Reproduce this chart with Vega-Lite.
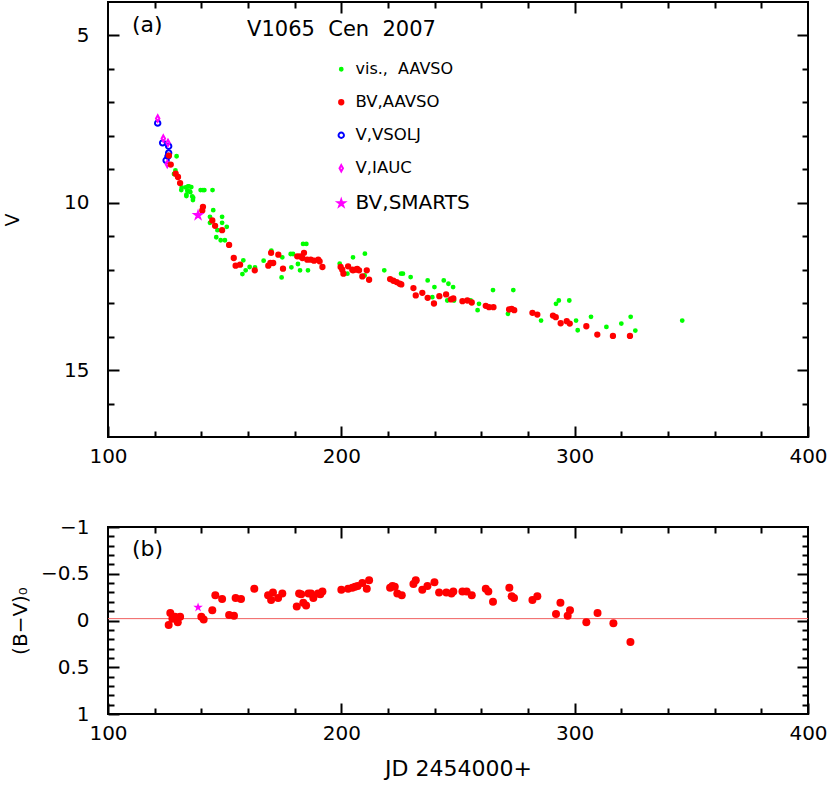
{
"$schema": "https://vega.github.io/schema/vega-lite/v6.json",
"background": "white",
"padding": {"left": 2, "top": 0, "right": 0, "bottom": 4},
"bounds": "flush",
"spacing": 90,
"config": {
 "font": "DejaVu Sans",
 "view": {"stroke": "black", "strokeWidth": 2},
 "axis": {"grid": false, "domain": false, "tickColor": "black", "tickWidth": 2, "labelFont": "DejaVu Sans", "labelFontSize": 20, "labelColor": "black", "titleFont": "DejaVu Sans", "titleFontWeight": "normal", "titleColor": "black", "labelOverlap": false, "labelFlush": false, "labelBound": false},
 "legend": {"labelFont": "DejaVu Sans"}
},
"datasets": {
 "lc": [
  {"jd":129.4,"v":8.61,"src":"vis., AAVSO"},{"jd":128.9,"v":9.03,"src":"vis., AAVSO"},{"jd":128.3,"v":9.14,"src":"vis., AAVSO"},{"jd":131.4,"v":9.62,"src":"vis., AAVSO"},{"jd":133.3,"v":9.54,"src":"vis., AAVSO"},{"jd":134.3,"v":9.51,"src":"vis., AAVSO"},{"jd":135.7,"v":9.53,"src":"vis., AAVSO"},{"jd":135.0,"v":9.66,"src":"vis., AAVSO"},{"jd":133.6,"v":9.80,"src":"vis., AAVSO"},{"jd":136.5,"v":9.85,"src":"vis., AAVSO"},{"jd":131.6,"v":9.54,"src":"vis., AAVSO"},{"jd":134.7,"v":9.51,"src":"vis., AAVSO"},{"jd":134.0,"v":9.64,"src":"vis., AAVSO"},{"jd":135.3,"v":9.68,"src":"vis., AAVSO"},{"jd":133.6,"v":9.76,"src":"vis., AAVSO"},{"jd":136.1,"v":9.81,"src":"vis., AAVSO"},{"jd":136.4,"v":9.92,"src":"vis., AAVSO"},{"jd":139.7,"v":9.62,"src":"vis., AAVSO"},{"jd":140.7,"v":9.62,"src":"vis., AAVSO"},{"jd":141.3,"v":9.62,"src":"vis., AAVSO"},{"jd":144.8,"v":9.62,"src":"vis., AAVSO"},{"jd":145.1,"v":10.22,"src":"vis., AAVSO"},{"jd":143.7,"v":10.42,"src":"vis., AAVSO"},{"jd":143.7,"v":10.60,"src":"vis., AAVSO"},{"jd":148.9,"v":10.42,"src":"vis., AAVSO"},{"jd":148.9,"v":10.60,"src":"vis., AAVSO"},{"jd":150.9,"v":10.72,"src":"vis., AAVSO"},{"jd":146.9,"v":10.82,"src":"vis., AAVSO"},{"jd":146.4,"v":11.03,"src":"vis., AAVSO"},{"jd":148.3,"v":11.12,"src":"vis., AAVSO"},{"jd":150.1,"v":11.12,"src":"vis., AAVSO"},{"jd":158.0,"v":11.72,"src":"vis., AAVSO"},{"jd":159.0,"v":12.02,"src":"vis., AAVSO"},{"jd":157.6,"v":12.13,"src":"vis., AAVSO"},{"jd":160.7,"v":11.92,"src":"vis., AAVSO"},{"jd":163.0,"v":11.93,"src":"vis., AAVSO"},{"jd":166.7,"v":11.73,"src":"vis., AAVSO"},{"jd":170.0,"v":11.43,"src":"vis., AAVSO"},{"jd":174.7,"v":11.63,"src":"vis., AAVSO"},{"jd":174.4,"v":12.23,"src":"vis., AAVSO"},{"jd":178.3,"v":11.53,"src":"vis., AAVSO"},{"jd":179.3,"v":11.53,"src":"vis., AAVSO"},{"jd":178.6,"v":11.93,"src":"vis., AAVSO"},{"jd":181.4,"v":11.83,"src":"vis., AAVSO"},{"jd":182.3,"v":12.02,"src":"vis., AAVSO"},{"jd":183.6,"v":11.23,"src":"vis., AAVSO"},{"jd":185.0,"v":11.23,"src":"vis., AAVSO"},{"jd":185.7,"v":12.02,"src":"vis., AAVSO"},{"jd":199.3,"v":11.82,"src":"vis., AAVSO"},{"jd":202.6,"v":12.12,"src":"vis., AAVSO"},{"jd":205.0,"v":11.63,"src":"vis., AAVSO"},{"jd":210.1,"v":11.52,"src":"vis., AAVSO"},{"jd":210.0,"v":12.17,"src":"vis., AAVSO"},{"jd":218.4,"v":12.02,"src":"vis., AAVSO"},{"jd":225.6,"v":12.12,"src":"vis., AAVSO"},{"jd":226.4,"v":12.12,"src":"vis., AAVSO"},{"jd":229.7,"v":12.22,"src":"vis., AAVSO"},{"jd":237.0,"v":12.32,"src":"vis., AAVSO"},{"jd":239.9,"v":12.52,"src":"vis., AAVSO"},{"jd":243.9,"v":12.32,"src":"vis., AAVSO"},{"jd":245.9,"v":12.42,"src":"vis., AAVSO"},{"jd":247.9,"v":12.52,"src":"vis., AAVSO"},{"jd":239.0,"v":12.82,"src":"vis., AAVSO"},{"jd":245.4,"v":12.92,"src":"vis., AAVSO"},{"jd":248.3,"v":12.92,"src":"vis., AAVSO"},{"jd":255.4,"v":12.92,"src":"vis., AAVSO"},{"jd":259.0,"v":13.02,"src":"vis., AAVSO"},{"jd":258.4,"v":13.21,"src":"vis., AAVSO"},{"jd":265.0,"v":12.61,"src":"vis., AAVSO"},{"jd":273.7,"v":12.61,"src":"vis., AAVSO"},{"jd":271.4,"v":13.32,"src":"vis., AAVSO"},{"jd":285.6,"v":13.52,"src":"vis., AAVSO"},{"jd":292.0,"v":13.02,"src":"vis., AAVSO"},{"jd":293.2,"v":12.92,"src":"vis., AAVSO"},{"jd":297.7,"v":12.92,"src":"vis., AAVSO"},{"jd":300.6,"v":13.52,"src":"vis., AAVSO"},{"jd":301.3,"v":13.81,"src":"vis., AAVSO"},{"jd":307.0,"v":13.41,"src":"vis., AAVSO"},{"jd":313.6,"v":13.71,"src":"vis., AAVSO"},{"jd":320.0,"v":13.61,"src":"vis., AAVSO"},{"jd":324.0,"v":13.41,"src":"vis., AAVSO"},{"jd":326.0,"v":13.82,"src":"vis., AAVSO"},{"jd":346.1,"v":13.52,"src":"vis., AAVSO"},
  {"jd":121.3,"v":7.62,"src":"V,VSOLJ"},{"jd":123.4,"v":8.21,"src":"V,VSOLJ"},{"jd":126.0,"v":8.31,"src":"V,VSOLJ"},{"jd":126.0,"v":8.51,"src":"V,VSOLJ"},{"jd":125.7,"v":8.61,"src":"V,VSOLJ"},{"jd":124.9,"v":8.73,"src":"V,VSOLJ"},
  {"jd":121.3,"v":7.48,"src":"V,IAUC"},{"jd":123.7,"v":8.08,"src":"V,IAUC"},{"jd":125.7,"v":8.21,"src":"V,IAUC"},{"jd":125.4,"v":8.84,"src":"V,IAUC"},
  {"jd":126.1,"v":8.59,"src":"BV,AAVSO"},{"jd":126.9,"v":8.86,"src":"BV,AAVSO"},{"jd":129.0,"v":9.13,"src":"BV,AAVSO"},{"jd":130.0,"v":9.23,"src":"BV,AAVSO"},{"jd":130.9,"v":9.41,"src":"BV,AAVSO"},{"jd":140.7,"v":10.12,"src":"BV,AAVSO"},{"jd":140.4,"v":10.23,"src":"BV,AAVSO"},{"jd":144.7,"v":10.53,"src":"BV,AAVSO"},{"jd":145.9,"v":10.69,"src":"BV,AAVSO"},{"jd":148.9,"v":10.82,"src":"BV,AAVSO"},{"jd":151.9,"v":11.26,"src":"BV,AAVSO"},{"jd":153.9,"v":11.65,"src":"BV,AAVSO"},{"jd":154.7,"v":11.88,"src":"BV,AAVSO"},{"jd":156.6,"v":11.85,"src":"BV,AAVSO"},{"jd":162.9,"v":12.02,"src":"BV,AAVSO"},{"jd":168.7,"v":11.88,"src":"BV,AAVSO"},{"jd":169.6,"v":11.80,"src":"BV,AAVSO"},{"jd":170.8,"v":11.80,"src":"BV,AAVSO"},{"jd":173.0,"v":11.55,"src":"BV,AAVSO"},{"jd":169.9,"v":11.50,"src":"BV,AAVSO"},{"jd":175.0,"v":11.97,"src":"BV,AAVSO"},{"jd":181.1,"v":11.60,"src":"BV,AAVSO"},{"jd":182.3,"v":11.60,"src":"BV,AAVSO"},{"jd":184.0,"v":11.50,"src":"BV,AAVSO"},{"jd":183.3,"v":11.65,"src":"BV,AAVSO"},{"jd":185.4,"v":11.70,"src":"BV,AAVSO"},{"jd":186.9,"v":11.70,"src":"BV,AAVSO"},{"jd":188.3,"v":11.73,"src":"BV,AAVSO"},{"jd":190.1,"v":11.70,"src":"BV,AAVSO"},{"jd":190.7,"v":11.75,"src":"BV,AAVSO"},{"jd":191.9,"v":11.92,"src":"BV,AAVSO"},{"jd":199.7,"v":11.92,"src":"BV,AAVSO"},{"jd":200.4,"v":12.00,"src":"BV,AAVSO"},{"jd":200.9,"v":12.12,"src":"BV,AAVSO"},{"jd":202.9,"v":11.90,"src":"BV,AAVSO"},{"jd":204.7,"v":12.00,"src":"BV,AAVSO"},{"jd":205.0,"v":12.02,"src":"BV,AAVSO"},{"jd":206.1,"v":12.00,"src":"BV,AAVSO"},{"jd":206.8,"v":11.98,"src":"BV,AAVSO"},{"jd":207.6,"v":12.02,"src":"BV,AAVSO"},{"jd":209.0,"v":12.20,"src":"BV,AAVSO"},{"jd":210.9,"v":12.02,"src":"BV,AAVSO"},{"jd":211.9,"v":12.30,"src":"BV,AAVSO"},{"jd":220.9,"v":12.28,"src":"BV,AAVSO"},{"jd":222.3,"v":12.33,"src":"BV,AAVSO"},{"jd":223.7,"v":12.37,"src":"BV,AAVSO"},{"jd":225.0,"v":12.42,"src":"BV,AAVSO"},{"jd":225.7,"v":12.44,"src":"BV,AAVSO"},{"jd":230.9,"v":12.55,"src":"BV,AAVSO"},{"jd":231.9,"v":12.77,"src":"BV,AAVSO"},{"jd":234.7,"v":12.69,"src":"BV,AAVSO"},{"jd":237.0,"v":12.84,"src":"BV,AAVSO"},{"jd":239.7,"v":13.01,"src":"BV,AAVSO"},{"jd":242.0,"v":12.79,"src":"BV,AAVSO"},{"jd":244.9,"v":12.74,"src":"BV,AAVSO"},{"jd":247.0,"v":12.89,"src":"BV,AAVSO"},{"jd":248.0,"v":12.86,"src":"BV,AAVSO"},{"jd":251.9,"v":12.94,"src":"BV,AAVSO"},{"jd":254.0,"v":12.92,"src":"BV,AAVSO"},{"jd":255.9,"v":12.98,"src":"BV,AAVSO"},{"jd":261.9,"v":13.08,"src":"BV,AAVSO"},{"jd":263.3,"v":13.12,"src":"BV,AAVSO"},{"jd":265.2,"v":13.12,"src":"BV,AAVSO"},{"jd":271.9,"v":13.19,"src":"BV,AAVSO"},{"jd":273.0,"v":13.17,"src":"BV,AAVSO"},{"jd":274.1,"v":13.21,"src":"BV,AAVSO"},{"jd":281.9,"v":13.29,"src":"BV,AAVSO"},{"jd":284.0,"v":13.34,"src":"BV,AAVSO"},{"jd":290.7,"v":13.37,"src":"BV,AAVSO"},{"jd":291.9,"v":13.42,"src":"BV,AAVSO"},{"jd":294.0,"v":13.60,"src":"BV,AAVSO"},{"jd":296.6,"v":13.54,"src":"BV,AAVSO"},{"jd":297.9,"v":13.61,"src":"BV,AAVSO"},{"jd":305.0,"v":13.69,"src":"BV,AAVSO"},{"jd":309.7,"v":13.94,"src":"BV,AAVSO"},{"jd":316.4,"v":13.98,"src":"BV,AAVSO"},{"jd":323.7,"v":13.98,"src":"BV,AAVSO"},
  {"jd":138.6,"v":10.37,"src":"BV,SMARTS"}
 ],
 "bv": [
  {"jd":126.0,"bv":0.048,"src":"BV,AAVSO"},{"jd":126.7,"bv":-0.08,"src":"BV,AAVSO"},{"jd":127.6,"bv":-0.02,"src":"BV,AAVSO"},{"jd":128.7,"bv":-0.04,"src":"BV,AAVSO"},{"jd":129.9,"bv":0.02,"src":"BV,AAVSO"},{"jd":130.9,"bv":-0.04,"src":"BV,AAVSO"},{"jd":140.0,"bv":-0.04,"src":"BV,AAVSO"},{"jd":141.0,"bv":-0.01,"src":"BV,AAVSO"},{"jd":144.7,"bv":-0.11,"src":"BV,AAVSO"},{"jd":146.0,"bv":-0.27,"src":"BV,AAVSO"},{"jd":148.9,"bv":-0.23,"src":"BV,AAVSO"},{"jd":151.9,"bv":-0.06,"src":"BV,AAVSO"},{"jd":154.0,"bv":-0.05,"src":"BV,AAVSO"},{"jd":154.7,"bv":-0.24,"src":"BV,AAVSO"},{"jd":157.0,"bv":-0.23,"src":"BV,AAVSO"},{"jd":162.7,"bv":-0.34,"src":"BV,AAVSO"},{"jd":168.6,"bv":-0.27,"src":"BV,AAVSO"},{"jd":169.9,"bv":-0.22,"src":"BV,AAVSO"},{"jd":170.7,"bv":-0.30,"src":"BV,AAVSO"},{"jd":172.9,"bv":-0.24,"src":"BV,AAVSO"},{"jd":174.7,"bv":-0.29,"src":"BV,AAVSO"},{"jd":180.9,"bv":-0.15,"src":"BV,AAVSO"},{"jd":181.9,"bv":-0.29,"src":"BV,AAVSO"},{"jd":182.8,"bv":-0.28,"src":"BV,AAVSO"},{"jd":183.7,"bv":-0.19,"src":"BV,AAVSO"},{"jd":184.9,"bv":-0.16,"src":"BV,AAVSO"},{"jd":185.9,"bv":-0.29,"src":"BV,AAVSO"},{"jd":187.0,"bv":-0.29,"src":"BV,AAVSO"},{"jd":188.0,"bv":-0.24,"src":"BV,AAVSO"},{"jd":190.0,"bv":-0.29,"src":"BV,AAVSO"},{"jd":191.0,"bv":-0.28,"src":"BV,AAVSO"},{"jd":191.9,"bv":-0.31,"src":"BV,AAVSO"},{"jd":200.0,"bv":-0.33,"src":"BV,AAVSO"},{"jd":202.9,"bv":-0.34,"src":"BV,AAVSO"},{"jd":204.7,"bv":-0.35,"src":"BV,AAVSO"},{"jd":205.9,"bv":-0.36,"src":"BV,AAVSO"},{"jd":207.0,"bv":-0.37,"src":"BV,AAVSO"},{"jd":209.0,"bv":-0.40,"src":"BV,AAVSO"},{"jd":210.9,"bv":-0.34,"src":"BV,AAVSO"},{"jd":211.9,"bv":-0.43,"src":"BV,AAVSO"},{"jd":220.9,"bv":-0.35,"src":"BV,AAVSO"},{"jd":221.9,"bv":-0.37,"src":"BV,AAVSO"},{"jd":222.9,"bv":-0.36,"src":"BV,AAVSO"},{"jd":224.0,"bv":-0.29,"src":"BV,AAVSO"},{"jd":225.9,"bv":-0.27,"src":"BV,AAVSO"},{"jd":230.9,"bv":-0.39,"src":"BV,AAVSO"},{"jd":231.9,"bv":-0.43,"src":"BV,AAVSO"},{"jd":234.7,"bv":-0.33,"src":"BV,AAVSO"},{"jd":236.9,"bv":-0.37,"src":"BV,AAVSO"},{"jd":239.9,"bv":-0.41,"src":"BV,AAVSO"},{"jd":241.9,"bv":-0.30,"src":"BV,AAVSO"},{"jd":245.0,"bv":-0.30,"src":"BV,AAVSO"},{"jd":247.2,"bv":-0.29,"src":"BV,AAVSO"},{"jd":248.0,"bv":-0.31,"src":"BV,AAVSO"},{"jd":251.9,"bv":-0.31,"src":"BV,AAVSO"},{"jd":253.7,"bv":-0.31,"src":"BV,AAVSO"},{"jd":255.9,"bv":-0.27,"src":"BV,AAVSO"},{"jd":261.9,"bv":-0.34,"src":"BV,AAVSO"},{"jd":263.0,"bv":-0.31,"src":"BV,AAVSO"},{"jd":265.0,"bv":-0.20,"src":"BV,AAVSO"},{"jd":272.0,"bv":-0.35,"src":"BV,AAVSO"},{"jd":273.0,"bv":-0.26,"src":"BV,AAVSO"},{"jd":274.0,"bv":-0.24,"src":"BV,AAVSO"},{"jd":281.9,"bv":-0.22,"src":"BV,AAVSO"},{"jd":284.0,"bv":-0.26,"src":"BV,AAVSO"},{"jd":292.0,"bv":-0.07,"src":"BV,AAVSO"},{"jd":293.9,"bv":-0.19,"src":"BV,AAVSO"},{"jd":297.0,"bv":-0.05,"src":"BV,AAVSO"},{"jd":298.0,"bv":-0.11,"src":"BV,AAVSO"},{"jd":305.0,"bv":0.02,"src":"BV,AAVSO"},{"jd":309.8,"bv":-0.08,"src":"BV,AAVSO"},{"jd":316.6,"bv":0.03,"src":"BV,AAVSO"},{"jd":323.9,"bv":0.23,"src":"BV,AAVSO"},
  {"jd":138.6,"bv":-0.14,"src":"BV,SMARTS"}
 ]
},
"vconcat": [
 {
  "width": 700, "height": 435,
  "resolve": {"axis": {"x": "independent", "y": "independent"}},
  "layer": [
   {
    "data": {"name": "lc"},
    "mark": {"type": "point", "strokeWidth": 2, "opacity": 1},
    "encoding": {
     "x": {"field": "jd", "type": "quantitative", "scale": {"domain": [100, 400], "nice": false, "zero": false},
       "axis": {"orient": "bottom", "title": null, "values": [100,120,140,160,180,200,220,240,260,280,300,320,340,360,380,400], "format": "d",
         "tickSize": {"condition": {"test": "datum.value % 100 === 0", "value": -11}, "value": -6},
         "labelExpr": "datum.value % 100 === 0 ? datum.label : ''", "labelPadding": 20}},
     "y": {"field": "v", "type": "quantitative", "scale": {"domain": [4, 17], "reverse": true, "nice": false, "zero": false},
       "axis": {"orient": "left", "title": "V", "titleFontSize": 19, "titlePadding": 41, "values": [5,6,7,8,9,10,11,12,13,14,15,16], "format": "d",
         "tickSize": {"condition": {"test": "datum.value % 5 === 0", "value": -11}, "value": -6},
         "labelExpr": "datum.value % 5 === 0 ? datum.label : ''", "labelPadding": 30}},
     "fill": {"field": "src", "type": "nominal",
       "scale": {"domain": ["vis., AAVSO","BV,AAVSO","V,VSOLJ","V,IAUC","BV,SMARTS"], "range": ["#00ff00","#ff0000","transparent","transparent","#ff00ff"]},
       "legend": {"title": null, "orient": "none", "legendX": 225, "legendY": 59, "rowPadding": 16, "labelOffset": 6, "symbolStrokeWidth": 2,
         "labelFontSize": {"expr": "datum.value === 'BV,SMARTS' ? 20 : datum.value === 'vis., AAVSO' ? 16 : 16.5"},
         "labelExpr": "datum.label === 'vis., AAVSO' ? 'vis.,\u00a0\u00a0AAVSO' : datum.label",
         "encode": {
           "labels": {"update": {"fill": {"signal": "datum.value === 'vis., AAVSO' ? '#00ff00' : datum.value === 'BV,AAVSO' ? '#ff0000' : datum.value === 'V,VSOLJ' ? '#0000ff' : '#ff00ff'"}}}
         }}},
     "stroke": {"field": "src", "type": "nominal",
       "scale": {"domain": ["vis., AAVSO","BV,AAVSO","V,VSOLJ","V,IAUC","BV,SMARTS"], "range": ["#00ff00","#ff0000","#0000ff","#ff00ff","#ff00ff"]}},
     "shape": {"field": "src", "type": "nominal",
       "scale": {"domain": ["vis., AAVSO","BV,AAVSO","V,VSOLJ","V,IAUC","BV,SMARTS"], "range": ["circle","circle","circle","M0,-1L0.55,0L0,1L-0.55,0Z","M0,-1L0.2245,-0.309L0.951,-0.309L0.363,0.118L0.588,0.809L0,0.382L-0.588,0.809L-0.363,0.118L-0.951,-0.309L-0.2245,-0.309Z"]}},
     "size": {"field": "src", "type": "nominal",
       "scale": {"domain": ["vis., AAVSO","BV,AAVSO","V,VSOLJ","V,IAUC","BV,SMARTS"], "range": [8, 50, 110, 200, 300]}}
    }
   },
   {
    "data": {"values": [{}]},
    "mark": {"type": "text", "align": "left", "baseline": "middle", "fontSize": 22, "color": "black", "font": "DejaVu Sans"},
    "encoding": {
     "x": {"datum": 110.3, "type": "quantitative", "scale": {"domain": [100, 400], "nice": false, "zero": false},
       "axis": {"orient": "top", "title": null, "labels": false, "values": [120,140,160,180,200,220,240,260,280,300,320,340,360,380],
         "tickSize": {"condition": {"test": "datum.value % 100 === 0", "value": -11}, "value": -6}}},
     "y": {"datum": 4.69, "type": "quantitative", "scale": {"domain": [4, 17], "reverse": true, "nice": false, "zero": false},
       "axis": {"orient": "right", "title": null, "labels": false, "values": [5,6,7,8,9,10,11,12,13,14,15,16],
         "tickSize": {"condition": {"test": "datum.value % 5 === 0", "value": -11}, "value": -6}}},
     "text": {"value": "(a)"}
    }
   },
   {
    "data": {"values": [{}]},
    "mark": {"type": "text", "align": "left", "baseline": "middle", "fontSize": 21, "color": "black", "font": "DejaVu Sans"},
    "encoding": {
     "x": {"datum": 159.6, "type": "quantitative", "scale": {"domain": [100, 400], "nice": false, "zero": false}, "axis": null},
     "y": {"datum": 4.83, "type": "quantitative", "scale": {"domain": [4, 17], "reverse": true, "nice": false, "zero": false}, "axis": null},
     "text": {"value": "V1065\u00a0\u00a0Cen\u00a0\u00a02007"}
    }
   }
  ]
 },
 {
  "width": 700, "height": 187,
  "resolve": {"axis": {"x": "independent", "y": "independent"}},
  "layer": [
   {
    "data": {"values": [{}]},
    "mark": {"type": "rule", "color": "#f06060", "strokeWidth": 1},
    "encoding": {
     "y": {"datum": -0.02, "type": "quantitative", "scale": {"domain": [-1, 1], "reverse": true, "nice": false, "zero": false}, "axis": null}
    }
   },
   {
    "data": {"name": "bv"},
    "transform": [{"filter": "datum.src === 'BV,AAVSO'"}],
    "mark": {"type": "circle", "color": "#ff0000", "size": 64, "opacity": 1},
    "encoding": {
     "x": {"field": "jd", "type": "quantitative", "scale": {"domain": [100, 400], "nice": false, "zero": false},
       "axis": {"orient": "bottom", "title": "JD 2454000+", "titleFontSize": 22, "titlePadding": 10, "values": [100,120,140,160,180,200,220,240,260,280,300,320,340,360,380,400], "format": "d",
         "tickSize": {"condition": {"test": "datum.value % 100 === 0", "value": -11}, "value": -6},
         "labelExpr": "datum.value % 100 === 0 ? datum.label : ''", "labelPadding": 20}},
     "y": {"field": "bv", "type": "quantitative", "scale": {"domain": [-1, 1], "reverse": true, "nice": false, "zero": false},
       "axis": {"orient": "left", "title": "(B\u2212V)\u2080", "titleFontSize": 20, "titlePadding": 10, "values": [-1,-0.9,-0.8,-0.7,-0.6,-0.5,-0.4,-0.3,-0.2,-0.1,0,0.1,0.2,0.3,0.4,0.5,0.6,0.7,0.8,0.9,1], "format": "~g",
         "tickSize": {"condition": {"test": "abs(datum.value*2 - round(datum.value*2)) < 0.001", "value": -11}, "value": -6},
         "labelExpr": "abs(datum.value*2 - round(datum.value*2)) < 0.001 ? datum.label : ''", "labelPadding": 30}}
    }
   },
   {
    "data": {"name": "bv"},
    "transform": [{"filter": "datum.src === 'BV,SMARTS'"}],
    "mark": {"type": "point", "filled": true, "color": "#ff00ff", "size": 100, "opacity": 1, "shape": "M0,-1L0.2245,-0.309L0.951,-0.309L0.363,0.118L0.588,0.809L0,0.382L-0.588,0.809L-0.363,0.118L-0.951,-0.309L-0.2245,-0.309Z"},
    "encoding": {
     "x": {"field": "jd", "type": "quantitative", "scale": {"domain": [100, 400], "nice": false, "zero": false}, "axis": null},
     "y": {"field": "bv", "type": "quantitative", "scale": {"domain": [-1, 1], "reverse": true, "nice": false, "zero": false}, "axis": null}
    }
   },
   {
    "data": {"values": [{}]},
    "mark": {"type": "text", "align": "left", "baseline": "middle", "fontSize": 22, "color": "black", "font": "DejaVu Sans"},
    "encoding": {
     "x": {"datum": 110.3, "type": "quantitative", "scale": {"domain": [100, 400], "nice": false, "zero": false},
       "axis": {"orient": "top", "title": null, "labels": false, "values": [120,140,160,180,200,220,240,260,280,300,320,340,360,380],
         "tickSize": {"condition": {"test": "datum.value % 100 === 0", "value": -11}, "value": -6}}},
     "y": {"datum": -0.76, "type": "quantitative", "scale": {"domain": [-1, 1], "reverse": true, "nice": false, "zero": false},
       "axis": {"orient": "right", "title": null, "labels": false, "values": [-0.9,-0.8,-0.7,-0.6,-0.5,-0.4,-0.3,-0.2,-0.1,0,0.1,0.2,0.3,0.4,0.5,0.6,0.7,0.8,0.9],
         "tickSize": {"condition": {"test": "abs(datum.value*2 - round(datum.value*2)) < 0.001", "value": -11}, "value": -6}}},
     "text": {"value": "(b)"}
    }
   }
  ]
 }
]
}
